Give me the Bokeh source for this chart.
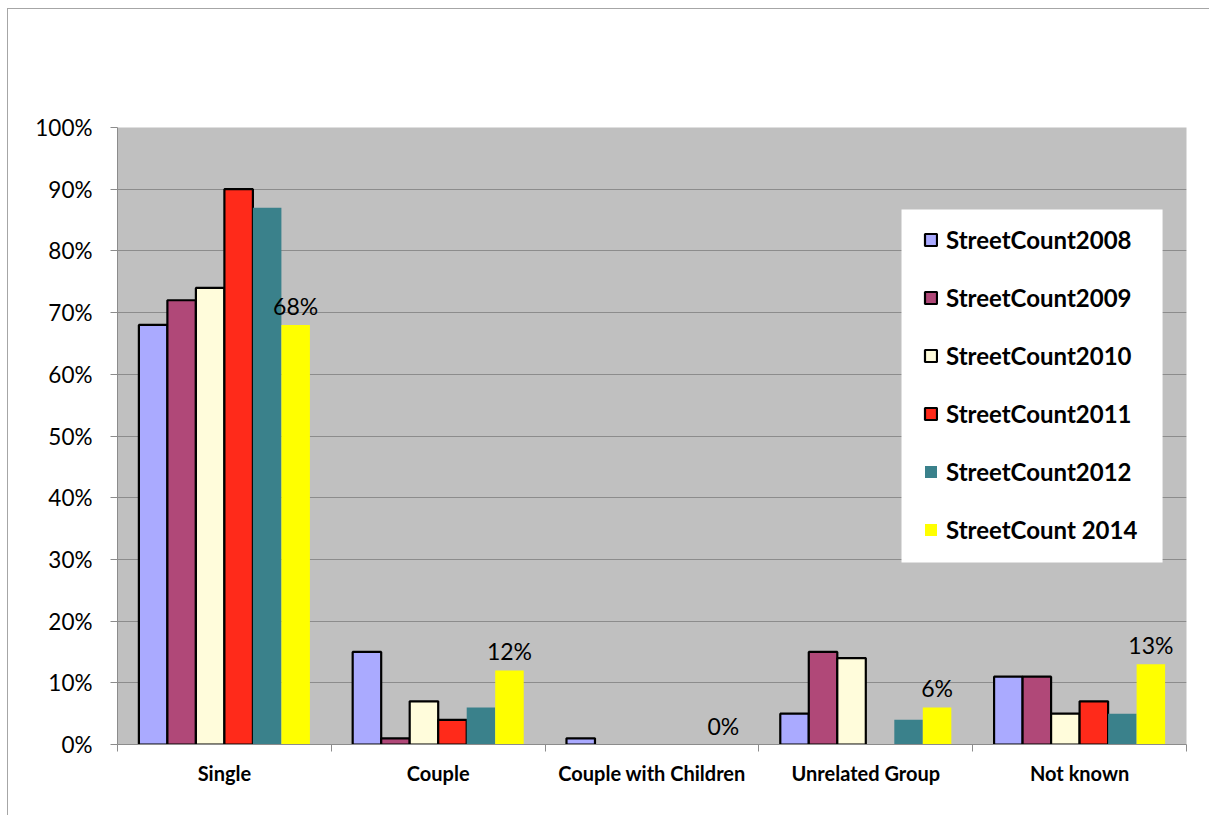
from bokeh.plotting import figure
from bokeh.models import (ColumnDataSource, Range1d, FixedTicker, Legend, LegendItem,
                          CustomJSTickFormatter, BoxAnnotation)
from bokeh.core.properties import value
from bokeh.embed import file_html
from bokeh.resources import INLINE

# ---------------- data ----------------
categories = ["Single", "Couple", "Couple with Children", "Unrelated Group", "Not known"]
series_names = ["StreetCount2008", "StreetCount2009", "StreetCount2010",
                "StreetCount2011", "StreetCount2012", "StreetCount 2014"]
sc2008 = [68, 15, 1, 5, 11]
sc2009 = [72, 1, 0, 15, 11]
sc2010 = [74, 7, 0, 14, 5]
sc2011 = [90, 4, 0, 0, 7]
sc2012 = [87, 6, 0, 4, 5]
sc2014 = [68, 12, 0, 6, 13]
y_ticks = [0, 10, 20, 30, 40, 50, 60, 70, 80, 90, 100]
y_tick_labels = ["0%", "10%", "20%", "30%", "40%", "50%", "60%", "70%", "80%", "90%", "100%"]

series_values = [sc2008, sc2009, sc2010, sc2011, sc2012, sc2014]

# ---------------- styles ----------------
fill_colors = ["#AAAAFF", "#B04878", "#FFFCDB", "#FF2A1A", "#3A818B", "#FFFF00"]
outlined = [True, True, True, True, False, False]
FONT = "Lato"
GROUP_W = 0.8
n_series = len(series_names)
bar_w = GROUP_W / n_series

p = figure(width=1202, height=807, output_backend="svg", toolbar_location=None,
           x_range=Range1d(0, len(categories)), y_range=Range1d(0, 100),
           min_border_left=109, min_border_right=24, min_border_top=118,
           min_border_bottom=72, margin=(8, 0, 0, 7),
           styles={"border-left": "1px solid #A6A6A6", "border-top": "1px solid #A6A6A6"})
p.background_fill_color = "#C0C0C0"
p.border_fill_color = "white"
p.outline_line_color = None

legend_items = []
for j, (name, vals) in enumerate(zip(series_names, series_values)):
    xs = [i + 0.5 + (j - (n_series - 1) / 2) * bar_w for i, v in enumerate(vals) if v > 0]
    ys = [v for v in vals if v > 0]
    src = ColumnDataSource(dict(x=xs, top=ys))
    r = p.vbar(x="x", top="top", bottom=0, width=bar_w, source=src,
               fill_color=fill_colors[j],
               line_color="black" if outlined[j] else None,
               line_width=2.2)
    legend_items.append(LegendItem(label=name, renderers=[r]))

# data labels for last series
last = series_values[-1]
lab_src = ColumnDataSource(dict(
    x=[i + 0.5 + (n_series - 1 - (n_series - 1) / 2) * bar_w for i in range(len(last))],
    y=last,
    t=[f"{v}%" for v in last]))
p.text(x="x", y="y", text="t", source=lab_src, text_font=value(FONT),
       text_font_size="23px", text_align="center", text_baseline="alphabetic",
       y_offset=-19, text_color="black")

# grid
p.xgrid.visible = False
p.ygrid.ticker = FixedTicker(ticks=y_ticks)
p.ygrid.grid_line_color = "#8C8C8C"
p.ygrid.grid_line_width = 1

# y axis
p.yaxis.ticker = FixedTicker(ticks=y_ticks)
p.yaxis.formatter = CustomJSTickFormatter(args=dict(tvals=y_ticks, tlabels=y_tick_labels),
                                          code="return tlabels[tvals.indexOf(Math.round(tick))];")
p.yaxis.axis_line_color = "#8C8C8C"
p.yaxis.major_tick_line_color = "#8C8C8C"
p.yaxis.major_tick_out = 7
p.yaxis.major_tick_in = 0
p.yaxis.minor_tick_line_color = None
p.yaxis.major_label_text_font = FONT
p.yaxis.major_label_text_font_size = "22.5px"
p.yaxis.major_label_text_color = "black"
p.yaxis.major_label_standoff = 18

# x axis
p.xaxis.ticker = FixedTicker(ticks=[i + 0.5 for i in range(len(categories))],
                             minor_ticks=list(range(len(categories) + 1)))
p.xaxis.formatter = CustomJSTickFormatter(args=dict(cats=categories),
                                          code="return cats[Math.floor(tick)];")
p.xaxis.axis_line_color = "#8C8C8C"
p.xaxis.major_tick_line_color = None
p.xaxis.major_tick_out = 0
p.xaxis.major_tick_in = 0
p.xaxis.minor_tick_line_color = "#8C8C8C"
p.xaxis.minor_tick_out = 7
p.xaxis.minor_tick_in = 0
p.xaxis.major_label_text_font = FONT
p.xaxis.major_label_text_font_style = "bold"
p.xaxis.major_label_text_font_size = "20px"
p.xaxis.major_label_text_color = "black"
p.xaxis.major_label_standoff = 9

# white legend panel (Excel-style legend box)
legend_box = BoxAnnotation(left=3.667, right=4.888, bottom=29.5, top=86.7,
                           fill_color="white", fill_alpha=1, line_color=None)
p.add_layout(legend_box)

# legend
legend = Legend(items=legend_items, location=(806, 200))
legend.background_fill_alpha = 0
legend.border_line_color = None
legend.label_text_font = FONT
legend.label_text_font_style = "bold"
legend.label_text_font_size = "24px"
legend.label_text_color = "black"
legend.glyph_width = 15
legend.glyph_height = 15
legend.label_height = 30
legend.label_width = 195
legend.label_standoff = 8
legend.spacing = 28
legend.padding = 33
legend.margin = 0
p.add_layout(legend)

open("out.html", "w").write(file_html(p, INLINE))
